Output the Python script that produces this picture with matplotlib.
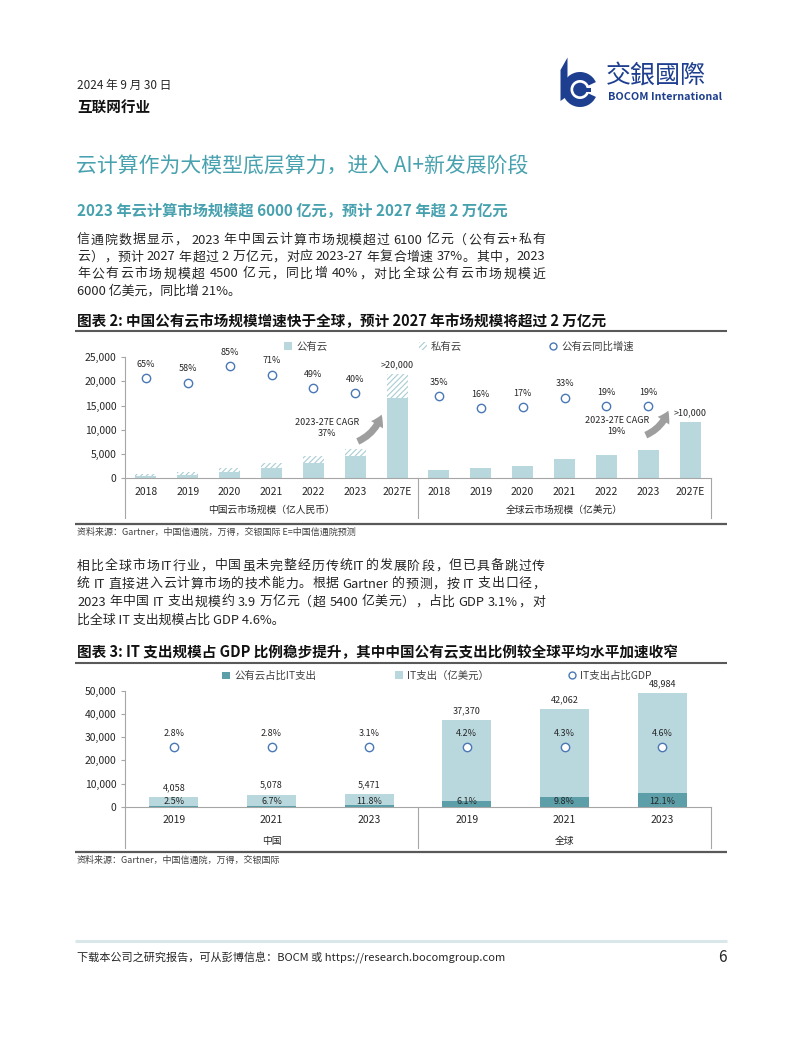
import re
import numpy as np
import matplotlib
matplotlib.use("Agg")
import matplotlib.pyplot as plt
import matplotlib.transforms as mtrans
from matplotlib.patches import Patch, Wedge, Circle, Polygon, Rectangle
from matplotlib.lines import Line2D

plt.rcParams['font.family'] = ['Noto Sans CJK SC', 'DejaVu Sans']
plt.rcParams['hatch.linewidth'] = 0.8

# ---------------- data ----------------
years1 = ['2018', '2019', '2020', '2021', '2022', '2023', '2027E']
cn_public = [437, 689, 1277, 2181, 3256, 4562, 16500]
cn_private = [525, 645, 814, 1048, 1294, 1563, 4900]
cn_growth = [65, 58, 85, 71, 49, 40, np.nan]
gl_public = [1850, 2150, 2520, 4020, 4790, 5830, 11700]
gl_growth = [35, 16, 17, 33, 19, 19, np.nan]
cn_top_label = '>20,000'
gl_top_label = '>10,000'
cn_cagr = '2023-27E CAGR\n37%'
gl_cagr = '2023-27E CAGR\n19%'
group1 = ['中国云市场规模（亿人民币）', '全球云市场规模（亿美元）']
legend1 = ['公有云', '私有云', '公有云同比增速']

years2 = ['2019', '2021', '2023']
cn_it = [4058, 5078, 5471]
gl_it = [37370, 42062, 48984]
cn_cloud_share = [2.5, 6.7, 11.8]
gl_cloud_share = [6.1, 9.8, 12.1]
cn_gdp = [2.8, 2.8, 3.1]
gl_gdp = [4.2, 4.3, 4.6]
group2 = ['中国', '全球']
legend2 = ['公有云占比IT支出', 'IT支出（亿美元）', 'IT支出占比GDP']

yticks1 = [0, 5000, 10000, 15000, 20000, 25000]
yticks2 = [0, 10000, 20000, 30000, 40000, 50000]

# ---------------- style ----------------
W, H = 802, 1037
TEAL = '#47A1AE'
LIGHT = '#B8D8DD'
DARKT = '#5C9FA9'
HATCHC = '#A9CDD3'
MARK = '#4A78B5'
GRAY = '#A6A6A6'
TXT = '#262626'
LOGO = '#1E3F8F'

fig = plt.figure(figsize=(W / 100, H / 100), dpi=100)
renderer = fig.canvas.get_renderer()


def T(x, y, s, **kw):
    kw.setdefault('va', 'center')
    kw.setdefault('ha', 'left')
    return fig.text(x / W, 1 - y / H, s, **kw)


def hline(x0, x1, y, color, lw):
    fig.add_artist(Line2D([x0 / W, x1 / W], [1 - y / H] * 2, color=color,
                          lw=lw, transform=fig.transFigure, solid_capstyle='butt'))


def width_of(s, **kw):
    t = fig.text(0, 0, s, **kw)
    w = t.get_window_extent(renderer).width
    t.remove()
    return w


def justified(x0, x1, y, s, **kw):
    parts = re.findall(r'[A-Za-z0-9.%+\-/:=]+|\s+|.', s)
    toks = []
    sp = False
    for p in parts:
        if p.isspace():
            sp = True
            continue
        toks.append((p, sp))
        sp = False
    space_w = width_of('x x', **kw) - width_of('xx', **kw)
    widths = [width_of(t, **kw) for t, _ in toks]
    natural = sum(widths) + sum(space_w for t, s_ in toks[1:] if s_)
    gaps = len(toks) - 1
    extra = max(0.0, (x1 - x0 - natural) / gaps) if gaps > 0 else 0
    x = x0
    for i, ((t, s_), w) in enumerate(zip(toks, widths)):
        if i > 0:
            x += extra + (space_w if s_ else 0)
        T(x, y, t, **kw)
        x += w


# ---------------- header ----------------
T(77, 85, '2024 年 9 月 30 日', fontsize=8.5, color=TXT)
T(77, 107, '互联网行业', fontsize=10.5, weight='bold', color='#111111')

lax = fig.add_axes([556 / W, 1 - 109 / H, 50 / W, 54 / H])
lax.set_xlim(556, 606)
lax.set_ylim(109, 55)
lax.axis('off')
lax.add_patch(Polygon([(560.5, 70), (567.5, 57.5), (567.5, 96), (560.5, 101)], closed=True,
                      color=LOGO, lw=0))
lax.add_patch(Wedge((580, 89.5), 17.5, 25, 335, width=8, color=LOGO, lw=0))
lax.add_patch(Circle((580, 89.5), 6.8, color=LOGO, lw=0))
lax.add_patch(Rectangle((580, 87.5), 11, 4, color=LOGO, lw=0))
T(606, 77, '交銀國際', fontsize=18, color=LOGO, family=['Noto Sans CJK TC', 'DejaVu Sans'])
T(608, 97.5, 'BOCOM International', fontsize=7.8, weight='bold', color=LOGO)

# ---------------- text blocks ----------------
T(76, 166.5, '云计算作为大模型底层算力，进入 AI+新发展阶段', fontsize=15, color=TEAL)
T(77, 211, '2023 年云计算市场规模超 6000 亿元，预计 2027 年超 2 万亿元', fontsize=11,
  weight='bold', color=TEAL)

body_kw = dict(fontsize=9.3, color=TXT)
p1 = ['信通院数据显示， 2023 年中国云计算市场规模超过 6100 亿元（公有云+私有',
      '云），预计 2027 年超过 2 万亿元，对应 2023-27 年复合增速 37%。其中，2023',
      '年公有云市场规模超 4500 亿元，同比增 40%，对比全球公有云市场规模近',
      '6000 亿美元，同比增 21%。']
for i, (line, y) in enumerate(zip(p1, [240, 257, 274, 291])):
    if i < 3:
        justified(77, 545, y, line, **body_kw)
    else:
        T(77, y, line, **body_kw)

p2 = ['相比全球市场IT行业，中国虽未完整经历传统IT的发展阶段，但已具备跳过传',
      '统 IT 直接进入云计算市场的技术能力。根据 Gartner 的预测，按 IT 支出口径，',
      '2023 年中国 IT 支出规模约 3.9 万亿元（超 5400 亿美元），占比 GDP 3.1%，对',
      '比全球 IT 支出规模占比 GDP 4.6%。']
for i, (line, y) in enumerate(zip(p2, [566, 584, 602, 620])):
    if i < 3:
        justified(77, 545, y, line, **body_kw)
    else:
        T(77, y, line, **body_kw)

# chart titles and rules
T(77, 321, '图表 2: 中国公有云市场规模增速快于全球，预计 2027 年市场规模将超过 2 万亿元',
  fontsize=10.5, weight='bold', color='#111111')
hline(75, 727, 331, '#595959', 1.5)
T(77, 652, '图表 3: IT 支出规模占 GDP 比例稳步提升，其中中国公有云支出比例较全球平均水平加速收窄',
  fontsize=10.5, weight='bold', color='#111111')
hline(75, 727, 663, '#595959', 1.5)

hline(75, 727, 524, '#595959', 1.6)
T(77, 532, '资料来源：Gartner，中国信通院，万得，交银国际 E=中国信通院预测', fontsize=6.5,
  style='italic', color='#404040')
hline(75, 727, 852, '#595959', 1.6)
T(77, 860, '资料来源：Gartner，中国信通院，万得，交银国际', fontsize=6.5,
  style='italic', color='#404040')

# footer
hline(75, 727, 941, '#D9E6EA', 2.2)
T(77, 957, '下载本公司之研究报告，可从彭博信息：BOCM 或 https://research.bocomgroup.com',
  fontsize=8, color=TXT)
T(722, 957, '6', fontsize=11, color=TXT, ha='center')


# ---------------- helpers for chart axes ----------------
def style_axis(ax, yticks, ylim):
    ax.set_ylim(*ylim)
    ax.set_yticks(yticks)
    ax.set_yticklabels([f'{v:,}' for v in yticks], fontsize=7.5, color=TXT)
    for s in ['top', 'right']:
        ax.spines[s].set_visible(False)
    ax.spines['left'].set_color(GRAY)
    ax.spines['bottom'].set_color(GRAY)
    ax.spines['left'].set_linewidth(0.8)
    ax.spines['bottom'].set_linewidth(0.8)
    ax.tick_params(axis='y', length=3, width=0.8, color=GRAY, pad=3)
    ax.tick_params(axis='x', length=0, pad=6, labelsize=7.5, labelcolor=TXT)
    ax.patch.set_alpha(0)


def group_frame(ax, seps, depth, labels, centers, label_y):
    tr = mtrans.blended_transform_factory(ax.transData, ax.transAxes)
    for xs in seps:
        ax.plot([xs, xs], [0, -depth], color=GRAY, lw=0.8, transform=tr, clip_on=False)
    for lab, c in zip(labels, centers):
        ax.text(c, label_y, lab, transform=tr, ha='center', va='center', fontsize=7, color=TXT)


def one_legend(handle, label, x, y):
    fig.legend([handle], [label], loc='center left', bbox_to_anchor=(x / W, 1 - y / H),
               frameon=False, fontsize=7.5, handlelength=0.8, handleheight=0.8,
               handletextpad=0.35, borderpad=0, borderaxespad=0,
               labelcolor='#404040')


# ---------------- chart 2 (market size) ----------------
ax = fig.add_axes([125 / W, 1 - 478.5 / H, 586 / W, 121.5 / H])
n1 = len(years1)
x_cn = np.arange(n1)
x_gl = np.arange(n1) + n1
bw = 0.5
ax.bar(x_cn, cn_public, bw, color=LIGHT, lw=0, zorder=2)
ax.bar(x_cn, cn_private, bw, bottom=cn_public, facecolor='white', edgecolor=HATCHC,
       hatch='//////', lw=0, zorder=2)
ax.bar(x_gl, gl_public, bw, color=LIGHT, lw=0, zorder=2)
ax.set_xlim(-0.5, 2 * n1 - 0.5)
ax.set_xticks(np.concatenate([x_cn, x_gl]))
ax.set_xticklabels(years1 + years1)
style_axis(ax, yticks1, (0, 25000))
group_frame(ax, [-0.5, n1 - 0.5, 2 * n1 - 0.5], 0.325, group1,
            [(n1 - 1) / 2, n1 + (n1 - 1) / 2], -0.259)

cn_total = np.array(cn_public) + np.array(cn_private)
ax.annotate(cn_top_label, xy=(x_cn[-1], cn_total[-1]), xytext=(0, 7), textcoords='offset points',
            ha='center', va='center', fontsize=6.5, color=TXT)
ax.annotate(gl_top_label, xy=(x_gl[-1], gl_public[-1]), xytext=(0, 6.5), textcoords='offset points',
            ha='center', va='center', fontsize=6.5, color=TXT)

ax.text(4.32, 10400, cn_cagr, ha='center', va='center', fontsize=6.5, color=TXT,
        linespacing=1.35, zorder=5)
ax.text(11.25, 10800, gl_cagr, ha='center', va='center', fontsize=6.5, color=TXT,
        linespacing=1.35, zorder=5)
arrow_kw = dict(arrowstyle='simple,head_width=1.0,head_length=0.8,tail_width=0.5',
                color='#9E9E9E', lw=0, connectionstyle='arc3,rad=0.25')
ax.annotate('', xy=(5.65, 13700), xytext=(5.0, 7400), arrowprops=arrow_kw, zorder=4)
ax.annotate('', xy=(12.5, 14500), xytext=(11.88, 8700), arrowprops=arrow_kw, zorder=4)

ax2 = ax.twinx()
ax2.set_ylim(-100, 100)
ax2.set_yticks([])
for s in ax2.spines.values():
    s.set_visible(False)
ax2.patch.set_alpha(0)
for xs, g in [(x_cn, cn_growth), (x_gl, gl_growth)]:
    ax2.plot(xs, g, ls='none', marker='o', ms=6, mfc='white', mec=MARK, mew=1.0, zorder=3,
             clip_on=False)
    for xi, gi in zip(xs, g):
        if not np.isnan(gi):
            ax2.annotate(f'{gi:.0f}%', xy=(xi, gi), xytext=(0, 10), textcoords='offset points',
                         ha='center', va='center', fontsize=6.5, color=TXT)

one_legend(Patch(facecolor=LIGHT, lw=0), legend1[0], 284, 347)
one_legend(Patch(facecolor='white', edgecolor=HATCHC, hatch='//////', lw=0), legend1[1], 419, 347)
one_legend(Line2D([], [], ls='none', marker='o', ms=5, mfc='white', mec=MARK, mew=1.0),
           legend1[2], 549, 347)

# ---------------- chart 3 (IT spending) ----------------
bx = fig.add_axes([125 / W, 1 - 806.7 / H, 586 / W, 115.7 / H])
n2 = len(years2)
xc = np.arange(n2)
xg = np.arange(n2) + n2
it_all = np.array(cn_it + gl_it)
share_all = np.array(cn_cloud_share + gl_cloud_share)
gdp_all = cn_gdp + gl_gdp
xall = np.concatenate([xc, xg])
cloud_all = it_all * share_all / 100
bx.bar(xall, it_all, 0.5, color=LIGHT, lw=0, zorder=2)
bx.bar(xall, cloud_all, 0.5, color=DARKT, lw=0, zorder=3)
bx.set_xlim(-0.5, 2 * n2 - 0.5)
bx.set_xticks(xall)
bx.set_xticklabels(years2 + years2)
style_axis(bx, yticks2, (0, 50000))
group_frame(bx, [-0.5, n2 - 0.5, 2 * n2 - 0.5], 0.357, group2,
            [(n2 - 1) / 2, n2 + (n2 - 1) / 2], -0.296)

trb = mtrans.blended_transform_factory(bx.transData, bx.transAxes)
bx.plot(xall, [0.515] * len(xall), transform=trb, ls='none', marker='o', ms=6, mfc='white',
        mec=MARK, mew=1.0, zorder=4)
for xi, it, sh, gd in zip(xall, it_all, share_all, gdp_all):
    bx.annotate(f'{gd:.1f}%', xy=(xi, 0.515), xycoords=trb, xytext=(0, 10),
                textcoords='offset points', ha='center', va='center', fontsize=6.5, color=TXT)
    bx.annotate(f'{it:,.0f}', xy=(xi, it), xytext=(0, 7), textcoords='offset points',
                ha='center', va='center', fontsize=6.5, color=TXT)
    bx.annotate(f'{sh:.1f}%', xy=(xi, 0), xytext=(0, 4), textcoords='offset points',
                ha='center', va='center', fontsize=6.5, color=TXT, zorder=5)

one_legend(Patch(facecolor=DARKT, lw=0), legend2[0], 222, 676)
one_legend(Patch(facecolor=LIGHT, lw=0), legend2[1], 395, 676)
one_legend(Line2D([], [], ls='none', marker='o', ms=5, mfc='white', mec=MARK, mew=1.0),
           legend2[2], 568, 676)

fig.savefig('out.png', dpi=100, facecolor='white')
